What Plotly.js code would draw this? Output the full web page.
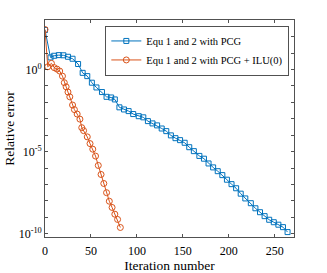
<!DOCTYPE html>
<html>
<head>
<meta charset="utf-8">
<script src="https://cdn.plot.ly/plotly-3.0.1.min.js"></script>
<style>html,body{margin:0;padding:0;background:#fff;}#chart{width:327px;height:273px;}</style>
</head>
<body>
<div id="chart"></div>
<script>
// Series 1: Equ 1 and 2 with PCG
const pcgIter = [0,6,10,15,20,25,30,36,41,46,51,56,62,67,72,76,81,86,91,96,102,107,112,117,122,127,132,137,142,147,152,157,162,168,173,178,183,188,193,198,203,208,213,218,224,229,234,239,244,249,254,259,264];
const pcgLog10Err = [2.41,0.74,0.84,0.88,0.87,0.78,0.66,0.34,-0.20,-0.40,-0.80,-1.09,-1.37,-1.66,-1.70,-1.82,-2.30,-2.43,-2.53,-2.71,-2.84,-2.91,-3.14,-3.28,-3.40,-3.59,-3.75,-4.01,-4.18,-4.30,-4.46,-4.73,-4.97,-5.26,-5.43,-5.72,-5.96,-6.19,-6.43,-6.71,-6.98,-7.23,-7.56,-7.85,-8.14,-8.45,-8.69,-8.93,-9.15,-9.30,-9.45,-9.60,-9.90];
// Series 2: Equ 1 and 2 with PCG + ILU(0)
const iluIter = [0,3,7,10,13,16,19,21,23,25,27,30,32,35,38,40,42,46,49,52,55,58,61,64,67,70,73,76,79,82];
const iluLog10Err = [2.44,0.17,0.38,0.12,0.03,-0.09,-0.40,-0.80,-1.05,-1.37,-1.66,-2.16,-2.44,-2.71,-3.02,-3.54,-3.72,-4.10,-4.51,-4.85,-5.27,-5.84,-6.39,-6.94,-7.50,-8.02,-8.40,-8.81,-9.13,-9.62];
const seriesNames = ["Equ 1 and 2 with PCG", "Equ 1 and 2 with PCG + ILU(0)"];
const xTickVals = [0,50,100,150,200,250];
const yTickExp = [3,2,1,0,-1,-2,-3,-4,-5,-6,-7,-8,-9,-10];
const yLabelExp = [0,-5,-10];

const toVal = a => a.map(v => Math.pow(10, v));
const font = "'Times New Roman', 'Liberation Serif', 'DejaVu Serif', serif";
const axisColor = "#262626";

const traces = [
  {
    x: pcgIter, y: toVal(pcgLog10Err), name: seriesNames[0],
    type: "scatter", mode: "lines+markers",
    line: {color: "#0072BD", width: 1},
    marker: {symbol: "square-open", size: 5, color: "#0072BD", line: {width: 1}}
  },
  {
    x: iluIter, y: toVal(iluLog10Err), name: seriesNames[1],
    type: "scatter", mode: "lines+markers",
    line: {color: "#D95319", width: 1},
    marker: {symbol: "circle-open", size: 6, color: "#D95319", line: {width: 1}}
  }
];

const layout = {
  width: 327, height: 273,
  margin: {l: 45, r: 33, t: 20, b: 36, pad: 0},
  paper_bgcolor: "#fff", plot_bgcolor: "#fff",
  font: {family: font, size: 12, color: "#000"},
  showlegend: true,
  legend: {
    x: 0.978, y: 0.974, xanchor: "right", yanchor: "top",
    bgcolor: "#fff", bordercolor: axisColor, borderwidth: 0.8,
    font: {family: font, size: 10.5, color: "#000"},
    tracegroupgap: 0, itemwidth: 30
  },
  xaxis: {
    range: [0, 271], tickvals: xTickVals, ticktext: xTickVals.map(String),
    ticks: "inside", ticklen: 3, tickcolor: axisColor, tickwidth: 0.8,
    showline: true, linecolor: axisColor, linewidth: 0.8, mirror: "ticks",
    showgrid: false, zeroline: false, ticklabelstandoff: 3,
    tickfont: {family: font, size: 12, color: "#000"},
    title: {text: "Iteration number", font: {family: font, size: 13.5, color: "#000"}, standoff: 3}
  },
  yaxis: {
    type: "log", range: [-10.2, 3.02],
    tickvals: yTickExp.map(e => Math.pow(10, e)),
    ticktext: yTickExp.map(e => yLabelExp.includes(e) ? "10<sup>" + e + "</sup>" : ""),
    ticks: "inside", ticklen: 3, tickcolor: axisColor, tickwidth: 0.8,
    showline: true, linecolor: axisColor, linewidth: 0.8, mirror: "ticks",
    showgrid: false, zeroline: false,
    tickfont: {family: font, size: 12, color: "#000"},
    title: {text: "Relative error", font: {family: font, size: 13.5, color: "#000"}, standoff: 0}
  }
};

Plotly.newPlot("chart", traces, layout, {displayModeBar: false, staticPlot: true});
</script>
</body>
</html>
